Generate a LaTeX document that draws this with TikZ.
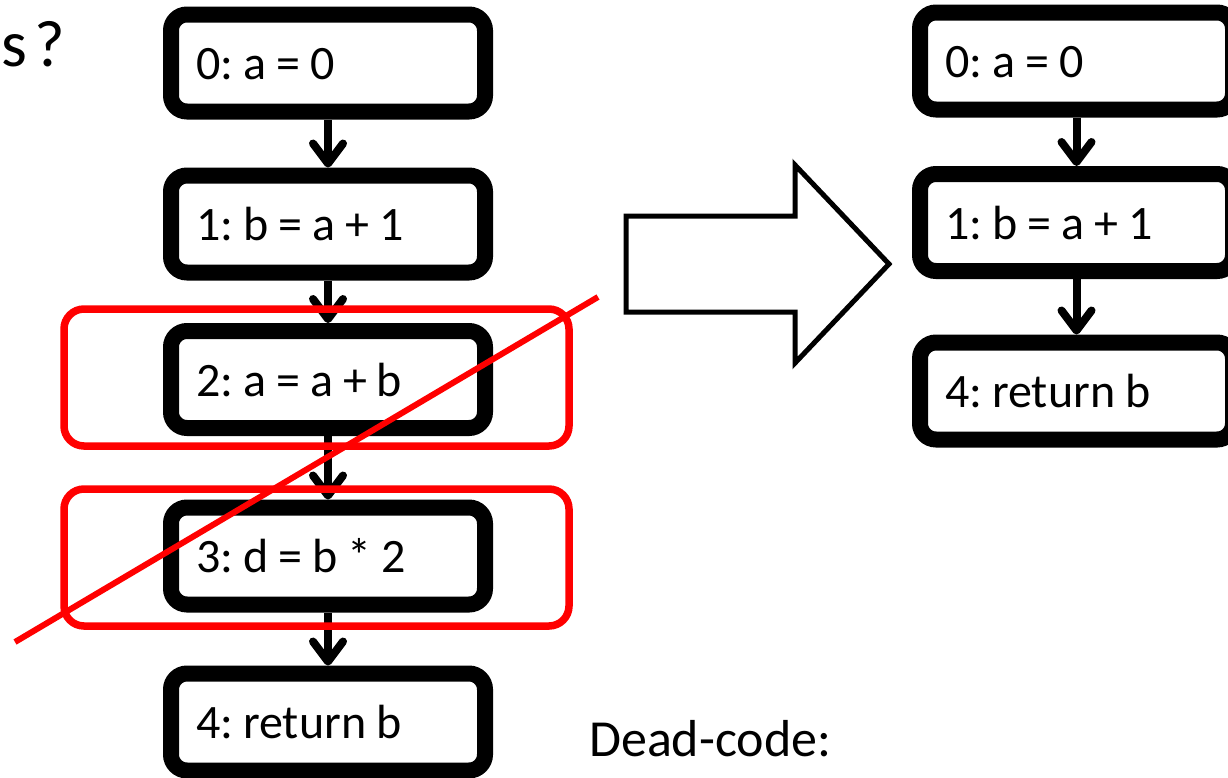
\documentclass[tikz,border=0pt]{standalone}
\usepackage{fontspec}
\setmainfont{Carlito}
\usetikzlibrary{arrows.meta}
\newcommand\stmtfont{\fontsize{48}{52}\selectfont}
\newcommand\tightspace{\frenchspacing\spaceskip=10pt\relax}
\begin{document}
\begin{tikzpicture}[x=1pt,y=-1pt,
  stmt/.style={draw=black, fill=white, line width=16pt, rounded corners=16pt,
    minimum height=97pt, inner xsep=25pt, inner ysep=0pt, align=left,
    text height=40pt, text depth=7pt,
    font=\stmtfont, execute at begin node=\tightspace},
  lstmt/.style={stmt, text width=264pt},
  rstmt/.style={stmt, text width=263pt},
  flow/.style={line width=8pt, -{Straight Barb[length=20pt,width=30pt,line cap=round,line join=round]}},
  deadbox/.style={draw=red, line width=7.5pt, rounded corners=20pt},
  strike/.style={draw=red, line width=6pt},
  bigarrow/.style={draw=black, fill=white, line width=5pt, line join=miter}
]
\useasboundingbox (0,0) rectangle (1228,777);
\begin{scope}
\clip (0,0) rectangle (1228,777);
% left column
\node[lstmt] (b0) at (328,63) {0: a = 0};
\node[lstmt] (b1) at (328,224) {1: b = a + 1};
\node[lstmt] (b2) at (328,379.5) {2: a = a + b};
\node[lstmt] (b3) at (328,556) {3: d = b * 2};
\node[lstmt] (b4) at (328,722) {4: return b};
\draw[flow] (b0) -- (b1);
\draw[flow] (b1) -- (b2);
\draw[flow] (b2) -- (b3);
\draw[flow] (b3) -- (b4);
% right column
\node[rstmt] (r0) at (1076.5,61) {0: a = 0};
\node[rstmt] (r1) at (1076.5,222.5) {1: b = a + 1};
\node[rstmt] (r4) at (1076.5,391) {4: return b};
\draw[flow] (r0) -- (r1);
\draw[flow] (r1) -- (r4);
% block arrow
\draw[bigarrow] (626,216) -- (795,216) -- (795,165) -- (889,264) -- (795,363) -- (795,312) -- (626,312) -- cycle;
% dead code markings
\draw[deadbox] (64,309) rectangle (569,446);
\draw[deadbox] (64,489) rectangle (569,626);
\coordinate (s1) at (15,642);
\coordinate (s2) at (598,297);
\draw[strike] (s1) -- (s2);
% texts
\node[anchor=base west, inner sep=0pt, font=\fontsize{66}{70}\selectfont] (q) at (1,66) {s\kern8pt?};
\node[anchor=base west, inner sep=0pt, font=\fontsize{52}{56}\selectfont] (dc) at (589,756) {Dead-code:};
\end{scope}
\end{tikzpicture}
\end{document}
